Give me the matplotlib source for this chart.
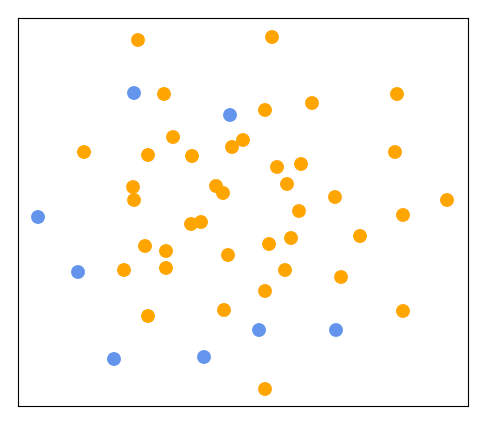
import matplotlib.pyplot as plt

# point positions (x right, y up)
orange_x = [120, 254, 146, 379, 247, 294, 66, 130, 155, 174, 214, 225, 377, 259, 283,
            115, 116, 198, 205, 269, 317, 429, 385, 281, 173, 183, 127, 148, 251, 273,
            342, 106, 148, 210, 267, 323, 247, 130, 206, 385, 247]
orange_y = [366, 369, 312, 312, 296, 303, 254, 251, 269, 250, 259, 266, 254, 239, 242,
            219, 206, 220, 213, 222, 209, 206, 191, 195, 182, 184, 160, 155, 162, 168,
            170, 136, 138, 151, 136, 129, 115, 90, 96, 95, 17]

blue_x = [116, 212, 20, 60, 96, 186, 241, 318]
blue_y = [313, 291, 189, 134, 47, 49, 76, 76]

fig = plt.figure(figsize=(4.86, 4.25), dpi=100)
ax = fig.add_axes([18 / 486, 19 / 425, 450 / 486, 388 / 425])
ax.scatter(orange_x, orange_y, s=100, color="orange", edgecolors="none")
ax.scatter(blue_x, blue_y, s=100, color="cornflowerblue", edgecolors="none")
ax.set_xlim(0, 450)
ax.set_ylim(0, 388)
ax.set_xticks([])
ax.set_yticks([])

fig.savefig("out.png", dpi=100)
